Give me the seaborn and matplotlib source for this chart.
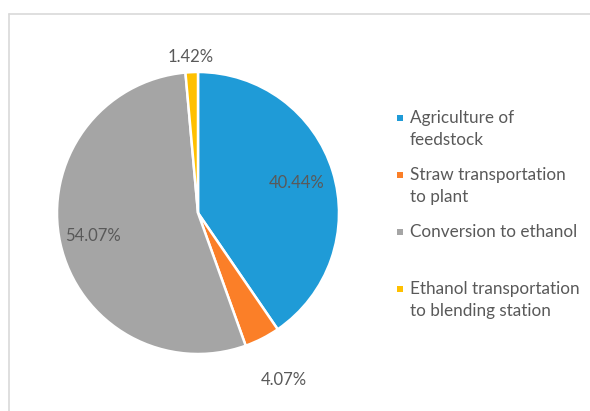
import matplotlib
matplotlib.use("Agg")
import matplotlib.pyplot as plt
from matplotlib.lines import Line2D
from matplotlib.patches import Rectangle
from matplotlib.legend_handler import HandlerPatch
import numpy as np
import seaborn as sns

categories = ["Agriculture of\nfeedstock", "Straw transportation\nto plant",
              "Conversion to ethanol\n ", "Ethanol transportation\nto blending station"]
shares = [40.44, 4.07, 54.07, 1.42]
pct_labels = ["40.44%", "4.07%", "54.07%", "1.42%"]
colors = ["#1F9BD7", "#FB7F28", "#A5A5A5", "#FFC000"]

sns.set_theme(style="white")
plt.rcParams["font.family"] = ["Lato", "DejaVu Sans"]

W, H = 590, 411
fig = plt.figure(figsize=(W / 100, H / 100), dpi=100)
fig.patch.set_facecolor("white")

# chart-area border (top and left visible)
fig.add_artist(Line2D([9 / W, 1.0], [1 - 14 / H, 1 - 14 / H], color="#D9D9D9", lw=1.2))
fig.add_artist(Line2D([9 / W, 9 / W], [1 - 14 / H, 0.0], color="#D9D9D9", lw=1.2))

cx, cy, r = 198, 213, 141
ax = fig.add_axes([(cx - r) / W, (H - cy - r) / H, 2 * r / W, 2 * r / H])
wedges, _ = ax.pie(shares, colors=colors, startangle=90, counterclock=False,
                   radius=1, wedgeprops=dict(edgecolor="white", linewidth=1.8))
ax.set_xlim(-1, 1)
ax.set_ylim(-1, 1)
ax.set_aspect("equal")
ax.axis("off")

dists = [0.73, 1.33, 0.76, 1.11]
for w, lab, d in zip(wedges, pct_labels, dists):
    ang = np.deg2rad((w.theta1 + w.theta2) / 2)
    ax.text(d * np.cos(ang), d * np.sin(ang), lab, ha="center", va="center",
            fontsize=12, color="#595959", clip_on=False)


class TopSquare(HandlerPatch):
    def create_artists(self, legend, orig_handle, xdescent, ydescent, width, height, fontsize, trans):
        s = 4.3
        y = height / 2 - ydescent + 7.9 - s / 2
        p = Rectangle((width - s - xdescent, y), s, s, facecolor=orig_handle.get_facecolor(),
                      edgecolor="none", transform=trans)
        return [p]


handles = [Rectangle((0, 0), 1, 1, facecolor=c) for c in colors]
leg = fig.legend(handles, categories, loc="upper left", bbox_to_anchor=(397 / W, 1 - 110 / H),
                 frameon=False, fontsize=12.3, handler_map={Rectangle: TopSquare()},
                 handlelength=0.35, handletextpad=0.40, labelspacing=1.12, borderpad=0,
                 borderaxespad=0)
for t in leg.get_texts():
    t.set_color("#595959")
    t.set_linespacing(1.45)

fig.savefig("out.png", dpi=100, facecolor="white")
